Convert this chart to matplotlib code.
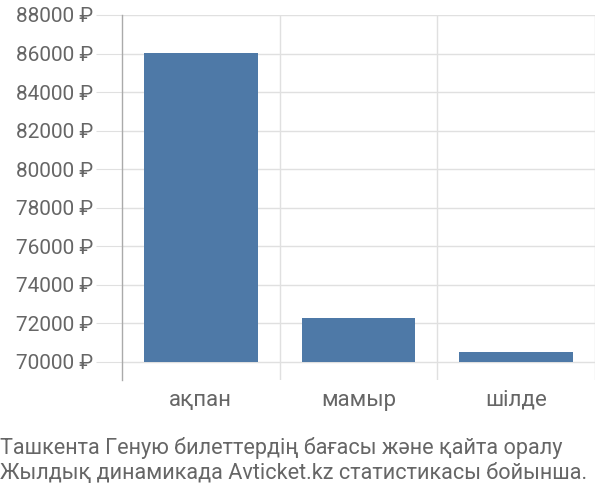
import matplotlib
matplotlib.use('Agg')
import matplotlib.pyplot as plt
from matplotlib.ticker import FuncFormatter

# Data
months = ['ақпан', 'мамыр', 'шілде']
prices = [86030, 72260, 70500]
y_ticks = list(range(70000, 88001, 2000))
caption = ['Ташкента Геную билеттердің бағасы және қайта оралу',
           'Жылдық динамикада Avticket.kz статистикасы бойынша.']

base = 70000
text_color = '#666666'
grid_color = '#e0e0e0'

plt.rcParams['font.family'] = ['Roboto', 'DejaVu Sans']

fig = plt.figure(figsize=(6, 5), dpi=100)
ax = fig.add_axes([0.2033, 0.24, 0.7884, 0.73])

x = list(range(len(months)))
ax.bar(x, [p - base for p in prices], bottom=base, width=0.72,
       color='#4e79a7', zorder=3)

ax.set_xlim(-0.5, len(months) - 0.5)
ax.set_ylim(69060, 88000)
ax.set_yticks(y_ticks)
ax.yaxis.set_major_formatter(FuncFormatter(lambda v, p: f'{int(v)} ₽'))
ax.set_xticks(x)
ax.set_xticklabels(months)

# horizontal grid from the tick marks, vertical grid between categories
ax.grid(axis='y', color=grid_color, linewidth=1, zorder=0)
for b in [0.5, 1.5, 2.5]:
    ax.axvline(b, color=grid_color, linewidth=1, zorder=0)

for s in ['top', 'right', 'bottom']:
    ax.spines[s].set_visible(False)
ax.spines['left'].set_color('#aaaaaa')
ax.spines['left'].set_linewidth(1)

ax.tick_params(axis='y', length=19, color=grid_color, labelsize=15,
               labelcolor=text_color, pad=2)
ax.tick_params(axis='x', length=0, labelsize=16, labelcolor=text_color, pad=7)

fig.text(0.0, 0.092, caption[0], fontsize=15.6, color=text_color, ha='left')
fig.text(0.0, 0.042, caption[1], fontsize=15.6, color=text_color, ha='left')

fig.savefig('out.png', dpi=100, facecolor='white')
